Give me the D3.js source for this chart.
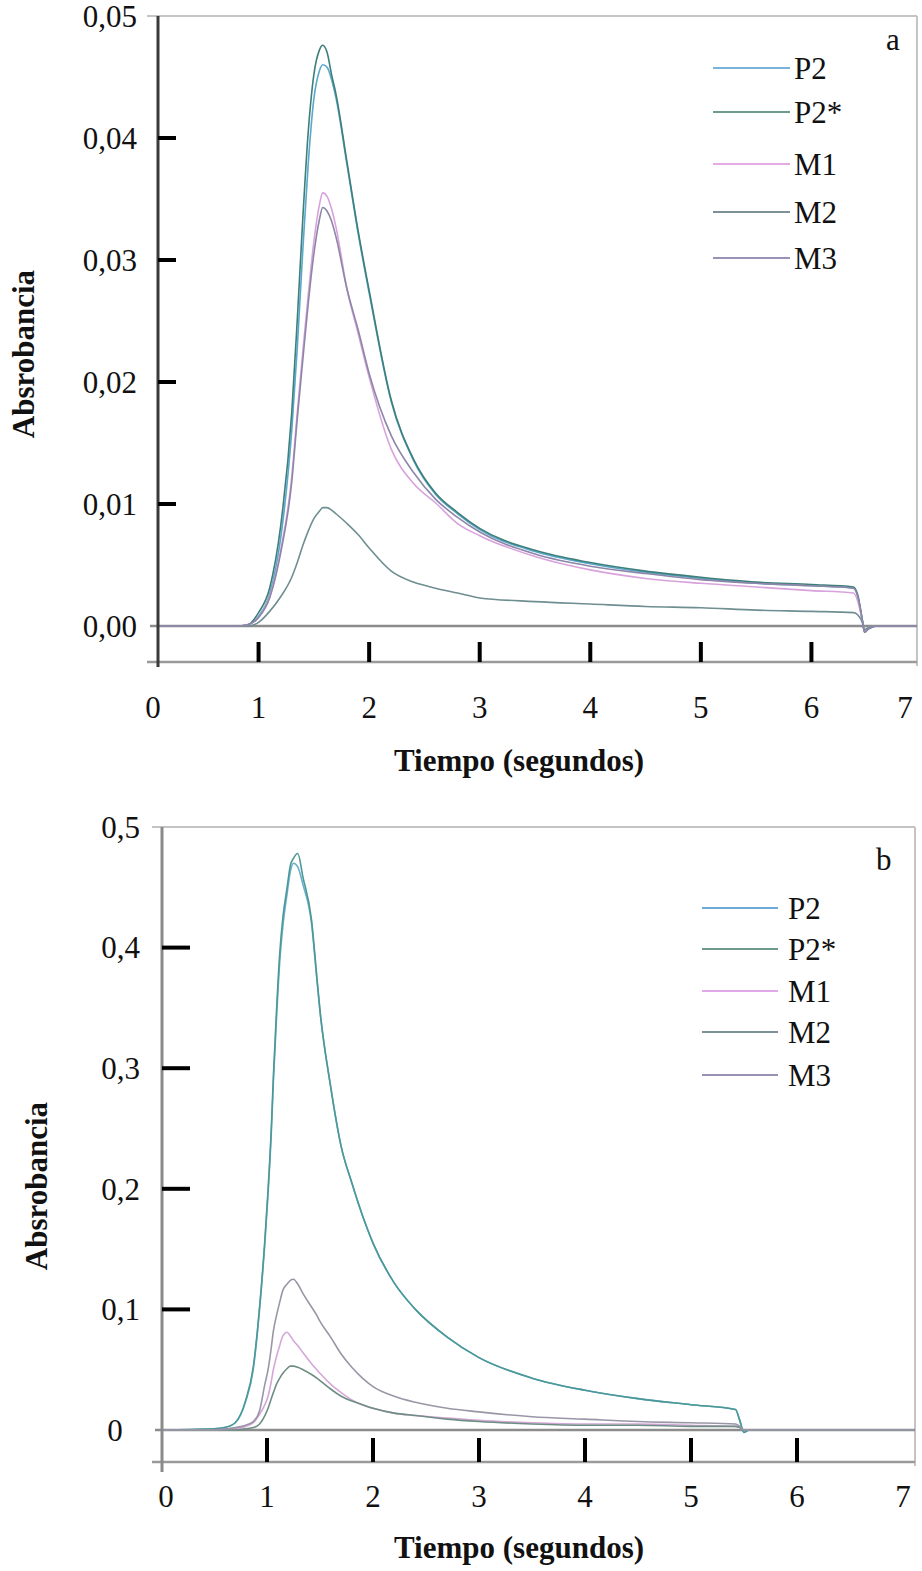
<!DOCTYPE html>
<html>
<head>
<meta charset="utf-8">
<script src="https://cdn.jsdelivr.net/npm/d3@7"></script>
<style>
  body { margin: 0; background: #fff; }
  svg { display: block; }
  text { font-family: "Liberation Serif", "Times New Roman", serif; fill: #111; }
</style>
</head>
<body>
<svg id="chart" width="922" height="1571"></svg>
<script>
const seriesNames = ["P2", "P2*", "M1", "M2", "M3"];
const xTickValues = [1, 2, 3, 4, 5, 6];
const xLabelValues = [0, 1, 2, 3, 4, 5, 6, 7];

// panel a  (tiempo en s, absorbancia)
const timeA = [0.1, 0.8, 0.9, 1.0, 1.1, 1.2, 1.3, 1.35, 1.4, 1.45, 1.5, 1.55, 1.58, 1.62, 1.66, 1.7, 1.8, 1.9, 2.0, 2.2, 2.4, 2.6, 2.8, 3.0, 3.5, 4.0, 4.5, 5.0, 5.5, 6.0, 6.38, 6.42, 6.46, 6.48, 6.52, 6.6, 7.0];
const p2A  = [0, 0, 0.0001, 0.0008, 0.0026, 0.0072, 0.016, 0.0228, 0.0308, 0.038, 0.0432, 0.0455, 0.046, 0.0458, 0.0448, 0.0433, 0.0378, 0.0322, 0.0273, 0.0184, 0.0136, 0.0108, 0.0092, 0.0079, 0.0061, 0.0051, 0.0044, 0.0039, 0.0035, 0.0033, 0.0031, 0.0024, 0.0005, -0.0004, -0.0002, 0, 0];
const p2sA = [0, 0, 0.0001, 0.0011, 0.0031, 0.0082, 0.0175, 0.0251, 0.0334, 0.0406, 0.0452, 0.0472, 0.0476, 0.047, 0.0452, 0.0436, 0.038, 0.0324, 0.0275, 0.0185, 0.0137, 0.0109, 0.0093, 0.008, 0.0062, 0.0052, 0.0045, 0.004, 0.0036, 0.0034, 0.0032, 0.0025, 0.0005, -0.0005, -0.0002, 0, 0];
const m1A  = [0, 0, 0.0001, 0.0007, 0.0024, 0.0062, 0.0122, 0.0175, 0.0225, 0.0272, 0.0315, 0.0345, 0.0355, 0.0352, 0.0342, 0.0327, 0.0276, 0.024, 0.0204, 0.0145, 0.0117, 0.0101, 0.0084, 0.0074, 0.0057, 0.0046, 0.0039, 0.0035, 0.0032, 0.0029, 0.0027, 0.002, 0.0004, -0.0004, -0.0001, 0, 0];
const m2A  = [0, 0, 0, 0.0003, 0.0012, 0.0024, 0.004, 0.0052, 0.0066, 0.0078, 0.0088, 0.0094, 0.0097, 0.0097, 0.0095, 0.0092, 0.0084, 0.0075, 0.0064, 0.0045, 0.0036, 0.0031, 0.0027, 0.0023, 0.002, 0.0018, 0.0016, 0.0015, 0.0013, 0.0012, 0.0011, 0.0009, 0.0003, -0.0003, -0.0001, 0, 0];
const m3A  = [0, 0, 0.0001, 0.0007, 0.0023, 0.006, 0.0118, 0.017, 0.0218, 0.0265, 0.0305, 0.0333, 0.0343, 0.034, 0.0332, 0.0319, 0.0276, 0.0243, 0.0207, 0.0156, 0.0126, 0.0104, 0.0089, 0.0077, 0.0059, 0.0049, 0.0043, 0.0038, 0.0035, 0.0033, 0.0031, 0.0024, 0.0005, -0.0005, -0.0002, 0, 0];
const yTicksA = [0, 0.01, 0.02, 0.03, 0.04, 0.05];

// panel b
const timeB = [0, 0.5, 0.6, 0.7, 0.8, 0.87, 0.93, 0.98, 1.01, 1.04, 1.06, 1.09, 1.12, 1.15, 1.19, 1.22, 1.25, 1.29, 1.34, 1.42, 1.47, 1.5, 1.6, 1.7, 1.8, 1.9, 2.0, 2.2, 2.4, 2.7, 3.0, 3.5, 4.0, 4.5, 5.0, 5.42, 5.46, 5.5, 5.55, 6.0, 7.1];
const p2B  = [0, 0.001, 0.002, 0.006, 0.024, 0.05, 0.1, 0.155, 0.196, 0.245, 0.288, 0.342, 0.388, 0.418, 0.445, 0.463, 0.47, 0.467, 0.452, 0.42, 0.374, 0.347, 0.285, 0.235, 0.205, 0.178, 0.155, 0.122, 0.1, 0.077, 0.06, 0.043, 0.033, 0.026, 0.021, 0.017, 0.008, -0.002, 0, 0, 0];
const p2sB = [0, 0.001, 0.002, 0.006, 0.025, 0.052, 0.102, 0.158, 0.199, 0.249, 0.293, 0.348, 0.395, 0.425, 0.45, 0.468, 0.474, 0.478, 0.458, 0.423, 0.376, 0.348, 0.285, 0.235, 0.205, 0.178, 0.155, 0.122, 0.1, 0.077, 0.06, 0.043, 0.033, 0.026, 0.021, 0.017, 0.008, -0.002, 0, 0, 0];
const m1B  = [0, 0, 0, 0.001, 0.003, 0.006, 0.013, 0.021, 0.028, 0.04, 0.05, 0.061, 0.07, 0.078, 0.081, 0.078, 0.074, 0.07, 0.064, 0.055, 0.05, 0.047, 0.038, 0.031, 0.025, 0.021, 0.018, 0.014, 0.012, 0.01, 0.008, 0.006, 0.005, 0.005, 0.004, 0.003, 0.002, 0, 0, 0, 0];
const m2B  = [0, 0, 0, 0, 0.001, 0.002, 0.005, 0.012, 0.018, 0.026, 0.031, 0.038, 0.043, 0.047, 0.051, 0.053, 0.053, 0.052, 0.05, 0.046, 0.043, 0.041, 0.034, 0.028, 0.024, 0.021, 0.018, 0.014, 0.012, 0.009, 0.007, 0.005, 0.004, 0.004, 0.003, 0.003, 0.002, 0, 0, 0, 0];
const m3B  = [0, 0, 0.001, 0.002, 0.004, 0.007, 0.016, 0.038, 0.05, 0.068, 0.082, 0.095, 0.106, 0.116, 0.121, 0.124, 0.125, 0.121, 0.113, 0.102, 0.095, 0.09, 0.077, 0.063, 0.052, 0.043, 0.036, 0.028, 0.023, 0.018, 0.015, 0.011, 0.009, 0.007, 0.006, 0.005, 0.003, 0, 0, 0, 0];
const yTicksB = [0, 0.1, 0.2, 0.3, 0.4, 0.5];

const svg = d3.select("#chart");

function drawPanel(cfg) {
  const g = svg.append("g");
  const x = d3.scaleLinear().domain([0, 7]).range(cfg.xRange);
  const y = d3.scaleLinear().domain(cfg.yDomain).range(cfg.yRange);
  const top = y(cfg.yDomain[1]);
  const zero = y(0);

  // frame
  g.append("line").attr("x1", cfg.frameLeft).attr("x2", cfg.right).attr("y1", top).attr("y2", top)
    .attr("stroke", "#c4c4c4").attr("stroke-width", 2);
  g.append("line").attr("x1", cfg.right).attr("x2", cfg.right).attr("y1", top).attr("y2", cfg.xAxisY + 4)
    .attr("stroke", "#c4c4c4").attr("stroke-width", 2);
  g.append("line").attr("x1", cfg.frameLeft).attr("x2", cfg.right).attr("y1", cfg.xAxisY).attr("y2", cfg.xAxisY)
    .attr("stroke", "#9a9a9a").attr("stroke-width", 2.5);
  g.append("line").attr("x1", cfg.frameLeft + 3).attr("x2", cfg.right).attr("y1", zero).attr("y2", zero)
    .attr("stroke", "#8c8c8c").attr("stroke-width", 2.5);

  // curves
  const clipId = "clip-" + cfg.tag;
  g.append("clipPath").attr("id", clipId).append("rect")
    .attr("x", cfg.axisX).attr("y", top).attr("width", cfg.right - cfg.axisX).attr("height", cfg.xAxisY - top);
  const line = d3.line().x(d => x(d[0])).y(d => y(d[1])).curve(d3.curveMonotoneX);
  g.append("g").attr("clip-path", `url(#${clipId})`)
    .selectAll("path").data(cfg.series).join("path")
    .attr("fill", "none")
    .attr("stroke", d => d.color)
    .attr("stroke-width", 1.6)
    .attr("d", d => line(cfg.time.map((t, i) => [t, d.values[i]])));

  // left axis
  g.append("line").attr("x1", cfg.axisX).attr("x2", cfg.axisX).attr("y1", top).attr("y2", cfg.axisBottom)
    .attr("stroke", cfg.axisColor).attr("stroke-width", 3);

  // y ticks + labels
  const yt = cfg.yTicks.filter(d => d > 0 && d < cfg.yDomain[1]);
  g.selectAll(".ytick").data(yt).join("line")
    .attr("x1", cfg.axisX).attr("x2", cfg.axisX + cfg.tickLen)
    .attr("y1", d => y(d)).attr("y2", d => y(d))
    .attr("stroke", "#000").attr("stroke-width", 4);
  g.selectAll(".ylab").data(cfg.yTicks).join("text")
    .attr("x", d => (d === 0 && cfg.zeroLabelX) ? cfg.zeroLabelX : cfg.labelRight)
    .attr("y", d => y(d))
    .attr("dy", "0.35em")
    .attr("text-anchor", d => (d === 0 && cfg.zeroLabelX) ? "middle" : "end")
    .attr("font-size", 31)
    .text(cfg.yFormat);

  // x ticks + labels
  g.selectAll(".xtick").data(xTickValues).join("line")
    .attr("x1", d => x(d)).attr("x2", d => x(d))
    .attr("y1", cfg.xTickTop).attr("y2", cfg.xAxisY)
    .attr("stroke", "#000").attr("stroke-width", 4);
  g.selectAll(".xlab").data(xLabelValues).join("text")
    .attr("x", d => Math.max(cfg.labelMin, Math.min(cfg.labelMax, x(d))))
    .attr("y", cfg.xLabelY)
    .attr("text-anchor", "middle")
    .attr("font-size", 31)
    .text(d => d);

  // titles
  g.append("text").attr("x", 519).attr("y", cfg.xTitleY).attr("text-anchor", "middle")
    .attr("font-size", 31).attr("font-weight", "bold").text("Tiempo (segundos)");
  g.append("text").attr("transform", `translate(${cfg.yTitleX},${cfg.yTitleY}) rotate(-90)`)
    .attr("text-anchor", "middle").attr("font-size", 31).attr("font-weight", "bold").text("Absrobancia");

  // panel tag
  g.append("text").attr("x", cfg.tagX).attr("y", cfg.tagY).attr("font-size", 31).text(cfg.tag);

  // legend
  const lg = g.append("g");
  lg.selectAll("line").data(cfg.series).join("line")
    .attr("x1", cfg.legend.x1).attr("x2", cfg.legend.x2)
    .attr("y1", (d, i) => cfg.legend.ys[i]).attr("y2", (d, i) => cfg.legend.ys[i])
    .attr("stroke", d => d.legendColor).attr("stroke-width", 2.2);
  lg.selectAll("text").data(cfg.series).join("text")
    .attr("x", cfg.legend.textX).attr("y", (d, i) => cfg.legend.ys[i])
    .attr("dy", "0.35em").attr("font-size", 31)
    .text(d => d.name);
}

const colorsA = ["#5aa8cc", "#3d7f7a", "#d9a2dd", "#6f8e92", "#8e86a8"];
const legendColorsA = ["#7ab2da", "#6f9a8e", "#e2aae6", "#7d9298", "#9a92b6"];
const colorsB = ["#6ab0cc", "#4b9896", "#d6a6da", "#6e8e84", "#9a96a8"];
const legendColorsB = ["#6fa9d6", "#6d9a8c", "#e0a8e8", "#7c9098", "#9a90b4"];

drawPanel({
  tag: "a",
  time: timeA,
  series: [p2A, p2sA, m1A, m2A, m3A].map((v, i) => ({ name: seriesNames[i], values: v, color: colorsA[i], legendColor: legendColorsA[i] })),
  xRange: [148, 922], yDomain: [0, 0.05], yRange: [626, 16], yTicks: yTicksA,
  yFormat: d => d.toFixed(2).replace(".", ","),
  axisX: 158, right: 917, frameLeft: 147, xAxisY: 662, axisBottom: 667, axisColor: "#3a3a3a",
  tickLen: 18, xTickTop: 642, labelRight: 137, zeroLabelX: null,
  xLabelY: 718, labelMin: 153, labelMax: 905, xTitleY: 771,
  yTitleX: 34, yTitleY: 354, tagX: 886, tagY: 50,
  legend: { x1: 713, x2: 790, textX: 794, ys: [68, 112, 164, 212, 258] }
});

drawPanel({
  tag: "b",
  time: timeB,
  series: [p2B, p2sB, m1B, m2B, m3B].map((v, i) => ({ name: seriesNames[i], values: v, color: colorsB[i], legendColor: legendColorsB[i] })),
  xRange: [161, 903], yDomain: [0, 0.5], yRange: [1430, 827], yTicks: yTicksB,
  yFormat: d => d === 0 ? "0" : d.toFixed(1).replace(".", ","),
  axisX: 162, right: 915, frameLeft: 152, xAxisY: 1462, axisBottom: 1472, axisColor: "#8a8a8a",
  tickLen: 28, xTickTop: 1438, labelRight: 140, zeroLabelX: 115,
  xLabelY: 1507, labelMin: 166, labelMax: 906, xTitleY: 1558,
  yTitleX: 47, yTitleY: 1186, tagX: 876, tagY: 870,
  legend: { x1: 702, x2: 778, textX: 788, ys: [908, 949, 991, 1032, 1075] }
});
</script>
</body>
</html>
